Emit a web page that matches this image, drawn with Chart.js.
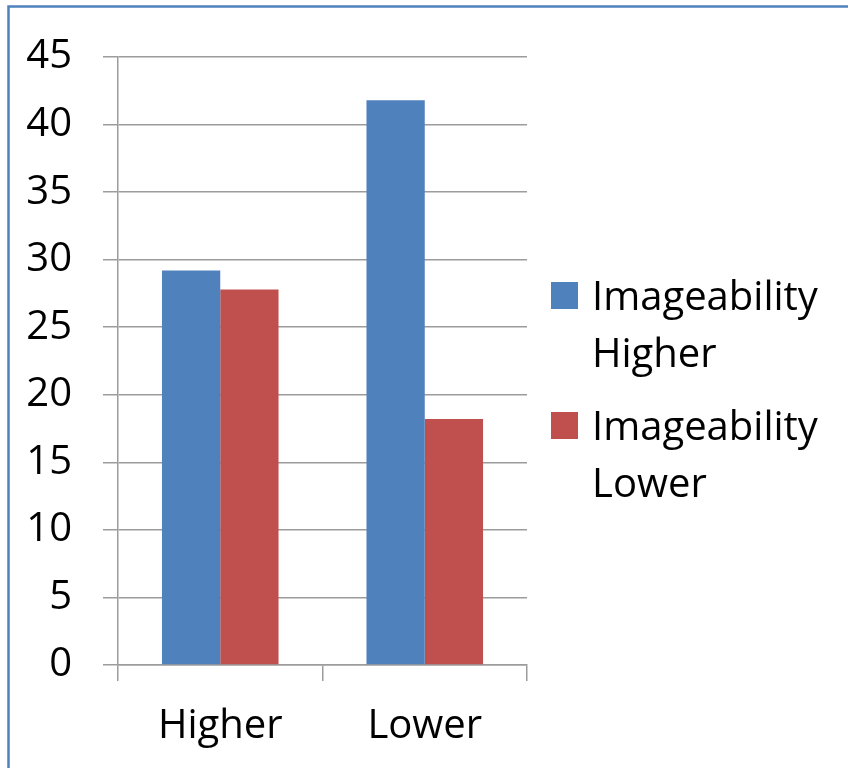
<!DOCTYPE html>
<html>
<head>
<meta charset="utf-8">
<title>Imageability</title>
<script src="https://cdn.jsdelivr.net/npm/chart.js@4/dist/chart.umd.min.js"></script>
<style>
  html, body { margin: 0; padding: 0; background: #ffffff; }
  #wrap { width: 848px; height: 768px; }
</style>
</head>
<body>
<div id="wrap"><canvas id="c" width="848" height="768"></canvas></div>
<script>
// Categories along the x axis
const categories = ['Higher', 'Lower'];

// Series names (legend lines) and values
const seriesHigherName = ['Imageability', 'Higher'];
const seriesLowerName = ['Imageability', 'Lower'];
const seriesHigher = [29.2, 41.8];
const seriesLower = [27.8, 18.2];

// Value axis range
const yMin = 0;
const yMax = 45;
const yStep = 5;

const BLUE = '#4F81BD';
const RED = '#C0504D';
const GRID = '#9c9c9c';
const FONT = '"Open Sans", "Liberation Sans", sans-serif';

// Outer frame drawn round the whole chart
const framePlugin = {
  id: 'frame',
  beforeDraw(chart) {
    const ctx = chart.ctx;
    ctx.save();
    ctx.fillStyle = '#ffffff';
    ctx.fillRect(0, 0, chart.width, chart.height);
    ctx.strokeStyle = '#4F81BD';
    ctx.lineWidth = 2.5;
    ctx.strokeRect(8.5, 6.5, chart.width + 20, chart.height + 20);
    ctx.restore();
  }
};

// Legend with multi-line entries to the right of the plot
const sideLegend = {
  id: 'sideLegend',
  afterDraw(chart) {
    const ctx = chart.ctx;
    const area = chart.chartArea;
    const swatch = 27;
    const x0 = area.right + 24;
    const textX = x0 + swatch + 14;
    const lineH = 57;
    const itemGap = 130;
    let baseline = 310;
    ctx.save();
    ctx.font = '40px ' + FONT;
    ctx.textBaseline = 'alphabetic';
    ctx.textAlign = 'left';
    chart.data.datasets.forEach((ds) => {
      ctx.fillStyle = ds.backgroundColor;
      ctx.fillRect(x0, baseline - 28, swatch, swatch);
      ctx.fillStyle = '#000000';
      ds.legendLines.forEach((line, i) => {
        ctx.fillText(line, textX, baseline + i * lineH);
      });
      baseline += itemGap;
    });
    ctx.restore();
  }
};

Chart.defaults.font.family = FONT;
Chart.defaults.color = '#000000';

new Chart(document.getElementById('c'), {
  type: 'bar',
  data: {
    labels: categories,
    datasets: [
      {
        label: seriesHigherName.join(' '),
        legendLines: seriesHigherName,
        data: seriesHigher,
        backgroundColor: BLUE,
        borderWidth: 0,
        barPercentage: 1.0,
        categoryPercentage: 0.57
      },
      {
        label: seriesLowerName.join(' '),
        legendLines: seriesLowerName,
        data: seriesLower,
        backgroundColor: RED,
        borderWidth: 0,
        barPercentage: 1.0,
        categoryPercentage: 0.57
      }
    ]
  },
  options: {
    responsive: false,
    animation: false,
    devicePixelRatio: 1,
    layout: {
      padding: { left: 26, right: 321, top: 57, bottom: 15 }
    },
    plugins: {
      legend: { display: false },
      tooltip: { enabled: false }
    },
    scales: {
      x: {
        offset: true,
        afterFit(scale) {
          scale.height = 88;
          scale.paddingLeft = 0;
          scale.paddingRight = 0;
        },
        grid: {
          display: true,
          drawOnChartArea: false,
          drawTicks: true,
          tickLength: 16,
          color: GRID,
          lineWidth: 1.5
        },
        border: { display: true, color: GRID, width: 1.5 },
        ticks: {
          font: { size: 40 },
          color: '#000000',
          padding: 22,
          maxRotation: 0
        }
      },
      y: {
        min: yMin,
        max: yMax,
        afterFit(scale) {
          scale.width = 92;
        },
        grid: {
          color: GRID,
          lineWidth: 1.5,
          drawTicks: true,
          tickLength: 15
        },
        border: { display: true, color: GRID, width: 1.5 },
        ticks: {
          stepSize: yStep,
          font: { size: 40 },
          color: '#000000',
          padding: 31
        }
      }
    }
  },
  plugins: [framePlugin, sideLegend]
});
</script>
</body>
</html>
